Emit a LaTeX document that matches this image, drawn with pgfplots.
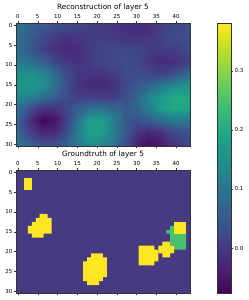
\documentclass[border=0pt]{standalone}
\usepackage{pgfplots}
\pgfplotsset{compat=1.18}
\usepackage{fontspec}
\setmainfont{DejaVu Sans}
\definecolor{bgv}{HTML}{463A82}
\definecolor{yelv}{HTML}{FDE725}
\definecolor{grnv}{HTML}{4AC16D}
\definecolor{spine}{HTML}{333333}
\pgfplotsset{
  img/.style={
    scale only axis, width=174pt, height=122.5pt,
    xmin=-0.5, xmax=43.5, ymin=-0.5, ymax=30.5,
    y dir=reverse, enlargelimits=false, axis on top,
    xtick={0,5,...,40}, ytick={0,5,...,30},
    xtick pos=both, xticklabel pos=top, ytick pos=left,
    tick align=outside, major tick length=2.4pt,
    every tick/.style={spine, line width=0.45pt},
    axis line style={spine, line width=0.55pt},
    /pgf/number format/assume math mode=true,
    tick label style={font=\fontsize{5.5}{6}\selectfont, inner sep=1pt},
    xticklabel style={yshift=1.8pt},
    title style={font=\fontsize{7.3}{8}\selectfont, inner sep=0pt, yshift=6pt},
    colormap/viridis, point meta min=-0.077, point meta max=0.38,
  }
}
\begin{document}
\begin{tikzpicture}[x=1pt,y=1pt]
\useasboundingbox (0,0) rectangle (249,300);
\begin{axis}[img, at={(16pt,154pt)}, anchor=south west,
  title={Reconstruction of layer 5},
  colorbar,
  colorbar style={
    at={(parent axis.north east)}, anchor=north west, xshift=19pt,
    scale only axis, width=13.5pt, height=270pt,
    ytick={0,0.1,0.2,0.3},
    yticklabel style={font=\fontsize{5.5}{6}\selectfont, /pgf/number format/.cd, fixed, fixed zerofill, precision=1, assume math mode=true},
    major tick length=2.4pt, tick align=outside,
    yticklabel pos=right, ytick pos=right,
    every tick/.style={spine, line width=0.45pt},
    axis line style={spine, line width=0.55pt},
  }]
\addplot[surf, shader=interp, mesh/cols=16, point meta=explicit]
 table[row sep=crcr, header=false, x index=0, y index=1, meta index=2] {
-0.5 -0.5 .10\\3 -0.5 .07\\6 -0.5 .05\\9 -0.5 .04\\12 -0.5 .03\\15 -0.5 .02\\18 -0.5 .01\\21 -0.5 .0\\24 -0.5 -.01\\27 -0.5 -.015\\30 -0.5 -.02\\33 -0.5 -.015\\36 -0.5 0\\39 -0.5 .015\\42 -0.5 .025\\43.5 -0.5 .03\\
-0.5 3 .09\\3 3 .05\\6 3 .025\\9 3 0\\12 3 -.01\\15 3 -.005\\18 3 .005\\21 3 .005\\24 3 0\\27 3 -.01\\30 3 -.012\\33 3 -.005\\36 3 .01\\39 3 .025\\42 3 .03\\43.5 3 .03\\
-0.5 6 .09\\3 6 .05\\6 6 .01\\9 6 -.015\\12 6 -.025\\15 6 -.02\\18 6 0\\21 6 .015\\24 6 .02\\27 6 .02\\30 6 .015\\33 6 .005\\36 6 0\\39 6 .005\\42 6 .02\\43.5 6 .025\\
-0.5 9 .11\\3 9 .09\\6 9 .06\\9 9 .02\\12 9 -.005\\15 9 -.015\\18 9 0\\21 9 .015\\24 9 .025\\27 9 .03\\30 9 .02\\33 9 -.005\\36 9 -.02\\39 9 -.02\\42 9 0\\43.5 9 .01\\
-0.5 12 .15\\3 12 .15\\6 12 .13\\9 12 .08\\12 12 .03\\15 12 -.005\\18 12 -.01\\21 12 -.01\\24 12 .005\\27 12 .025\\30 12 .03\\33 12 .02\\36 12 .01\\39 12 .02\\42 12 .06\\43.5 12 .07\\
-0.5 15 .16\\3 15 .17\\6 15 .155\\9 15 .10\\12 15 .04\\15 15 -.01\\18 15 -.025\\21 15 -.025\\24 15 -.015\\27 15 .02\\30 15 .05\\33 15 .07\\36 15 .10\\39 15 .13\\42 15 .15\\43.5 15 .15\\
-0.5 18 .13\\3 18 .12\\6 18 .09\\9 18 .06\\12 18 .035\\15 18 .01\\18 18 .01\\21 18 .005\\24 18 0\\27 18 .03\\30 18 .07\\33 18 .13\\36 18 .17\\39 18 .20\\42 18 .195\\43.5 18 .19\\
-0.5 21 .09\\3 21 .03\\6 21 -.01\\9 21 -.01\\12 21 .02\\15 21 .06\\18 21 .09\\21 21 .09\\24 21 .07\\27 21 .05\\30 21 .07\\33 21 .12\\36 21 .17\\39 21 .20\\42 21 .19\\43.5 21 .18\\
-0.5 24 .08\\3 24 -.02\\6 24 -.07\\9 24 -.055\\12 24 0\\15 24 .09\\18 24 .175\\21 24 .175\\24 24 .12\\27 24 .05\\30 24 .03\\33 24 .05\\36 24 .08\\39 24 .11\\42 24 .11\\43.5 24 .10\\
-0.5 27 .08\\3 27 .01\\6 27 -.03\\9 27 -.025\\12 27 .02\\15 27 .11\\18 27 .18\\21 27 .18\\24 27 .12\\27 27 .05\\30 27 -.01\\33 27 -.03\\36 27 -.015\\39 27 .02\\42 27 .04\\43.5 27 .04\\
-0.5 30.5 .11\\3 30.5 .07\\6 30.5 .04\\9 30.5 .04\\12 30.5 .06\\15 30.5 .10\\18 30.5 .14\\21 30.5 .13\\24 30.5 .09\\27 30.5 .03\\30 30.5 -.04\\33 30.5 -.065\\36 30.5 -.05\\39 30.5 -.02\\42 30.5 .01\\43.5 30.5 .02\\
};
\end{axis}
\begin{axis}[img, at={(16pt,7pt)}, anchor=south west,
  title={Groundtruth of layer 5}]
\addplot[draw=none, fill=bgv] coordinates {(-0.5,-0.5) (43.5,-0.5) (43.5,30.5) (-0.5,30.5)} -- cycle;
% block at top left
\addplot[draw=none, fill=yelv] coordinates {(1.5,1.5) (3.5,1.5) (3.5,4.5) (1.5,4.5)} -- cycle;
% left blob
\addplot[draw=none, fill=yelv] coordinates {(5.5,10.5) (7.5,10.5) (7.5,11.5) (8.5,11.5) (8.5,15.5) (6.5,15.5) (6.5,16.5) (3.5,16.5) (3.5,15.5) (2.5,15.5) (2.5,13.5) (3.5,13.5) (3.5,12.5) (4.5,12.5) (4.5,11.5) (5.5,11.5)} -- cycle;
% centre blob
\addplot[draw=none, fill=yelv] coordinates {(18.5,20.5) (21.5,20.5) (21.5,21.5) (22.5,21.5) (22.5,26.5) (21.5,26.5) (21.5,27.5) (20.5,27.5) (20.5,28.5) (17.5,28.5) (17.5,27.5) (16.5,27.5) (16.5,22.5) (17.5,22.5) (17.5,21.5) (18.5,21.5)} -- cycle;
% right square
\addplot[draw=none, fill=yelv] coordinates {(30.5,18.5) (34.5,18.5) (34.5,19.5) (35.5,19.5) (35.5,22.5) (34.5,22.5) (34.5,23.5) (30.5,23.5)} -- cycle;
% green patch
\addplot[draw=none, fill=grnv] coordinates {(38.5,13.5) (39.5,13.5) (39.5,15.5) (42.5,15.5) (42.5,19.5) (39.5,19.5) (39.5,18.5) (38.5,18.5) (38.5,15.5) (37.5,15.5) (37.5,14.5) (38.5,14.5)} -- cycle;
% right small blob
\addplot[draw=none, fill=yelv] coordinates {(36.5,17.5) (38.5,17.5) (38.5,18.5) (39.5,18.5) (39.5,20.5) (38.5,20.5) (38.5,21.5) (36.5,21.5) (36.5,20.5) (35.5,20.5) (35.5,18.5) (36.5,18.5)} -- cycle;
% top right block
\addplot[draw=none, fill=yelv] coordinates {(39.5,12.5) (42.5,12.5) (42.5,15.5) (39.5,15.5)} -- cycle;
\end{axis}
\end{tikzpicture}
\end{document}
